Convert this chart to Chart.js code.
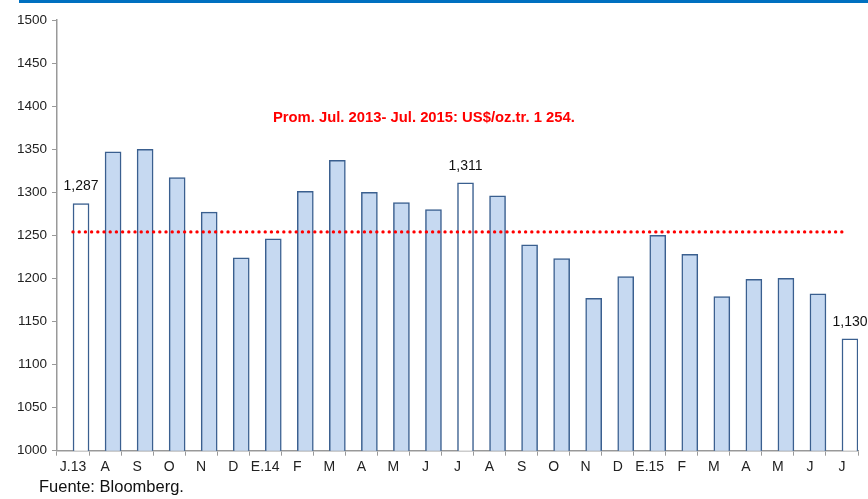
<!DOCTYPE html>
<html>
<head>
<meta charset="utf-8">
<script src="https://cdn.jsdelivr.net/npm/chart.js@4/dist/chart.umd.min.js"></script>
<style>
    body { margin: 0; background: #fff; }
    #wrap { position: relative; width: 868px; height: 499px; }
    #topRule { position: absolute; left: 19px; top: 0; width: 849px; height: 3px; background: #0070C0; }
    #source { position: absolute; left: 39px; top: 477px; font: 16.5px "Liberation Sans", Arial, sans-serif; color: #111; }
    canvas { position: absolute; left: 0; top: 0; }
</style>
</head>
<body>
<div id="wrap">
    <div id="topRule"></div>
    <canvas id="chart" width="868" height="499"></canvas>
    <div id="source">Fuente: Bloomberg.</div>
</div>
<script>
"use strict";

// Chart data (gold price, US$/oz.tr.):
var months = ['J.13', 'A', 'S', 'O', 'N', 'D', 'E.14', 'F', 'M', 'A', 'M', 'J',
    'J', 'A', 'S', 'O', 'N', 'D', 'E.15', 'F', 'M', 'A', 'M', 'J', 'J'];
var prices = [1287, 1347, 1350, 1317, 1277, 1224, 1246, 1301, 1337, 1300, 1288, 1280,
    1311, 1296, 1239, 1223, 1177, 1202, 1250, 1228, 1179, 1199, 1200, 1182, 1130];
var highlighted = [0, 12, 24];   // bars drawn white and labelled
var average = 1254;
var yTicks = [1000, 1050, 1100, 1150, 1200, 1250, 1300, 1350, 1400, 1450, 1500];
var noteText = 'Prom. Jul. 2013- Jul. 2015: US$/oz.tr. 1 254.';

var FONT = '"Liberation Sans", Arial, sans-serif';

var fillColors = prices.map(function (v, i) {
    return highlighted.indexOf(i) >= 0 ? '#ffffff' : '#C6D9F1';
});

// Labels above highlighted bars and the red note:
var labelPlugin = {
    id: 'labels',
    afterDatasetsDraw: function (chart) {
        var ctx = chart.ctx;
        var meta = chart.getDatasetMeta(1);
        ctx.save();
        ctx.font = '14px ' + FONT;
        ctx.fillStyle = '#111';
        ctx.textAlign = 'center';
        ctx.textBaseline = 'middle';
        highlighted.forEach(function (i) {
            var bar = meta.data[i];
            ctx.fillText(prices[i].toLocaleString('en-US'), bar.x, bar.y - 17);
        });
        var area = chart.chartArea;
        ctx.font = 'bold 14.8px ' + FONT;
        ctx.fillStyle = '#FF0000';
        ctx.fillText(noteText, area.left + (area.right - area.left) * 0.458, chart.scales.y.getPixelForValue(1386));
        ctx.restore();
    }
};

new Chart(document.getElementById('chart').getContext('2d'), {
    type: 'bar',
    data: {
        labels: months,
        datasets: [{
            // empty series, keeps bars in the right half of each slot
            data: months.map(function () { return null; }),
            backgroundColor: 'transparent'
        }, {
            data: prices,
            backgroundColor: fillColors,
            borderColor: '#3A5F8F',
            borderWidth: 1.5,
            borderSkipped: 'bottom'
        }, {
            type: 'line',
            order: -1,   // on top of the bars
            data: months.map(function () { return average; }),
            borderColor: '#FF0000',
            borderWidth: 3.4,
            borderDash: [0, 6.2],
            borderCapStyle: 'round',
            pointRadius: 0,
            fill: false
        }]
    },
    options: {
        responsive: false,
        animation: false,
        categoryPercentage: 1,
        barPercentage: 1,
        layout: { padding: { top: 20, right: 10, left: 0, bottom: 0 } },
        plugins: {
            legend: { display: false },
            tooltip: { enabled: false }
        },
        scales: {
            x: {
                offset: true,
                grid: { display: true, drawOnChartArea: false, offset: true, color: '#999', tickLength: 5 },
                border: { color: '#999', width: 1.5 },
                ticks: { font: { family: FONT, size: 14 }, color: '#222', padding: 3, maxRotation: 0, autoSkip: false },
                afterFit: function (scale) { scale.height = 48.3; }
            },
            y: {
                min: 1000,
                max: 1500,
                afterBuildTicks: function (scale) {
                    scale.ticks = yTicks.map(function (v) { return { value: v }; });
                },
                grid: { display: true, drawOnChartArea: false, color: '#999', tickLength: 5 },
                border: { color: '#999', width: 1.5 },
                ticks: {
                    font: { family: FONT, size: 13.5 },
                    color: '#222',
                    padding: 5,
                    callback: function (value) { return String(value); }
                },
                afterFit: function (scale) { scale.width = 57; }
            }
        }
    },
    plugins: [labelPlugin]
});
</script>
</body>
</html>
